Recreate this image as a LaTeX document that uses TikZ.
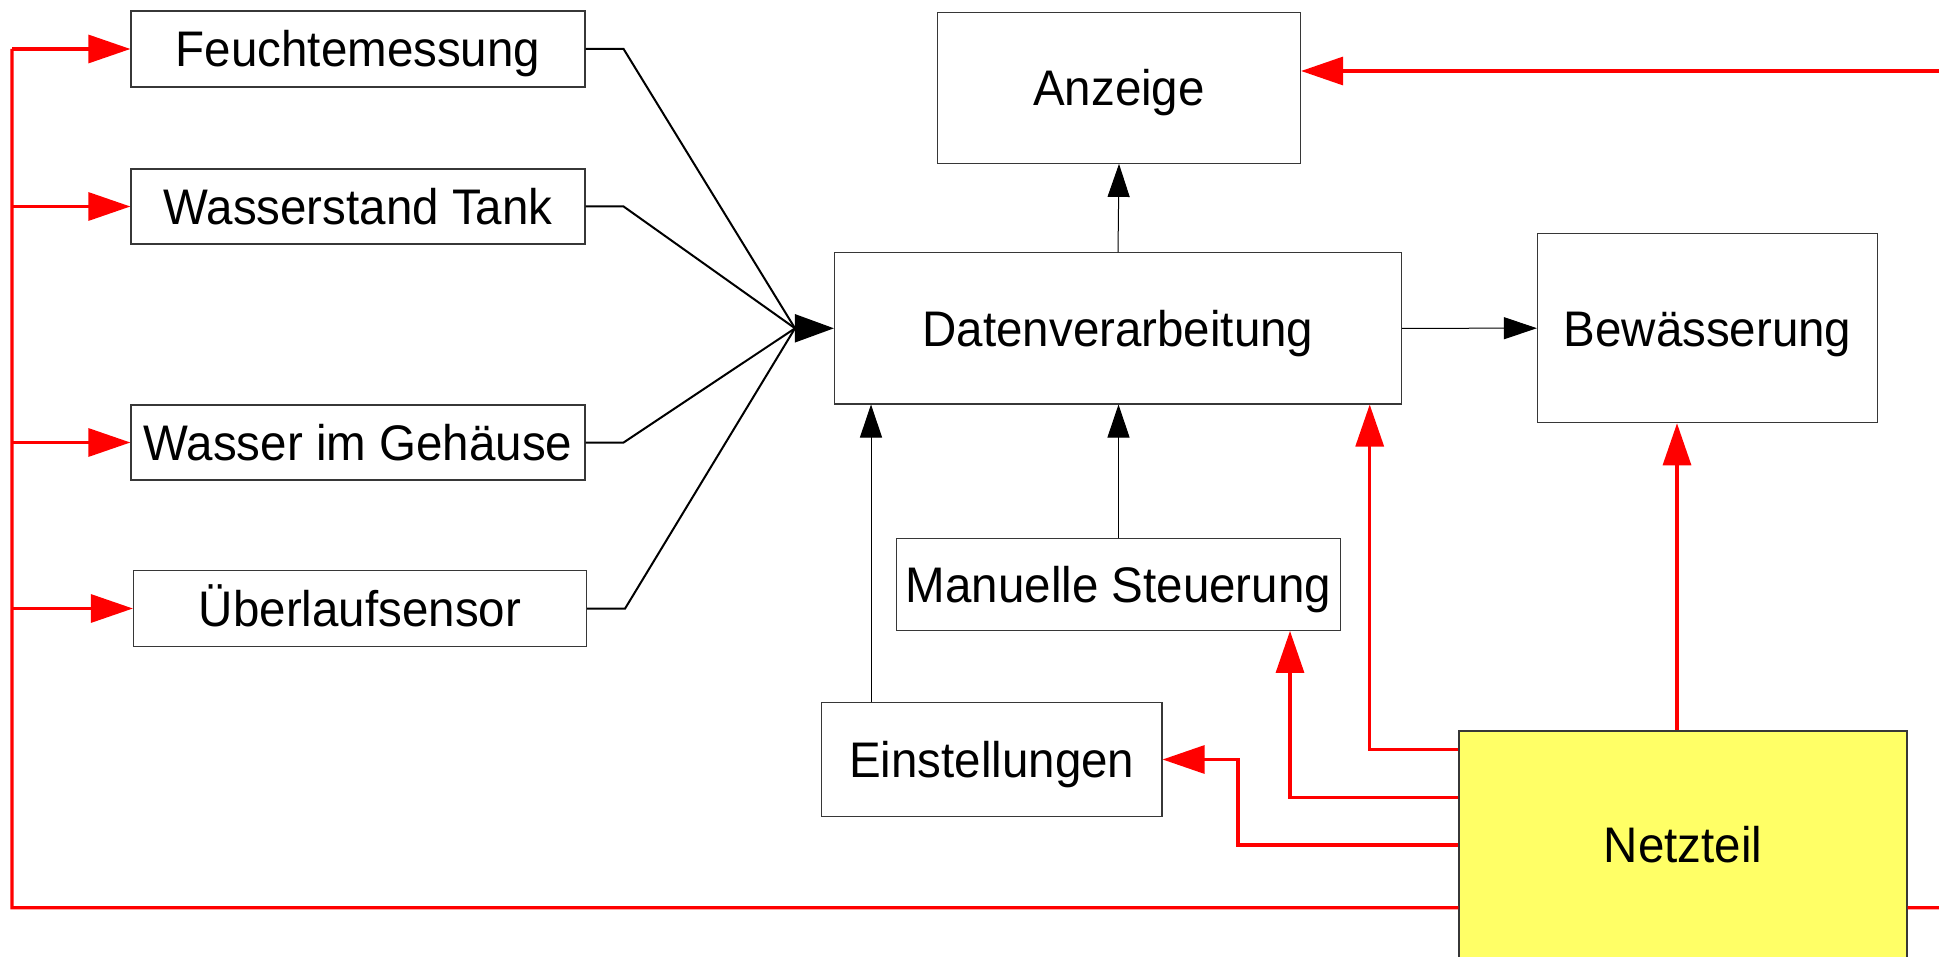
\documentclass[tikz,border=0pt]{standalone}
\usepackage{fontspec}
\setmainfont[FakeStretch=0.95]{Liberation Sans}
\usetikzlibrary{arrows.meta}
\definecolor{psuyellow}{RGB}{255,255,102}
\definecolor{boxline}{RGB}{55,55,55}

\begin{document}
\begin{tikzpicture}[x=0.5pt,y=-0.5pt,
  blk/.style={draw=boxline, line width=0.6pt, inner sep=0pt,
    text height=17.9pt, text depth=0pt,
    font=\fontsize{25pt}{30pt}\selectfont},
  power/.style={draw=red, line width=1.6pt},
  powerarrow/.style={power, -{Triangle[length=21pt,width=14pt]}},
  sig/.style={draw=black, line width=1pt},
  bigarrow/.style={draw=black, line width=1pt, -{Triangle[length=19.5pt,width=14pt]}},
  thinarrow/.style={draw=black, line width=0.5pt, -{Triangle[length=16.5pt,width=11pt]}},
]
\useasboundingbox (0,0) rectangle (1939,957);
\fill[white] (0,0) rectangle (1939,957);

% sensor blocks
\node[blk, minimum width=227pt, minimum height=38pt]   (F) at (358,49)    {Feuchtemessung};
\node[blk, minimum width=227pt, minimum height=37.5pt] (W) at (358,206.5) {Wasserstand Tank};
\node[blk, minimum width=227pt, minimum height=37.5pt] (G) at (358,442.5) {Wasser im Gehäuse};
\node[blk, minimum width=226.5pt, minimum height=37.8pt] (U) at (360,608.5) {Überlaufsensor};

% processing and outputs
\node[blk, minimum width=181.5pt, minimum height=75.5pt] (A) at (1119,87.8)  {Anzeige};
\node[blk, minimum width=283.5pt, minimum height=75.6pt] (D) at (1118,328.3) {Datenverarbeitung};
\node[blk, minimum width=170pt,   minimum height=94.5pt] (B) at (1707.5,328.2) {Bewässerung};
\node[blk, minimum width=222pt,   minimum height=46pt]   (M) at (1118.5,584.3) {Manuelle Steuerung};
\node[blk, minimum width=170.3pt, minimum height=56.8pt] (E) at (991.7,759.5) {Einstellungen};

% power supply
\node[blk, fill=psuyellow, minimum width=224pt, minimum height=114pt] (N) at (1683,845) {Netzteil};

% helper points
\coordinate (conv)  at (795,328.3);
\coordinate (railB) at (12,907.7);
\coordinate (eBend) at (1238,759.5);
\coordinate (edgeA) at (1939,71);
\coordinate (edgeN) at (1939,907.7);

% sensor signals into processing
\draw[sig] (F.east) -- ([xshift=19pt]F.east) -- (conv);
\draw[sig] (W.east) -- ([xshift=19pt]W.east) -- (conv);
\draw[sig] (G.east) -- ([xshift=19pt]G.east) -- (conv);
\draw[sig] (U.east) -- ([xshift=19pt]U.east) -- (conv);
\draw[bigarrow] (conv) -- (D.west);

% processing links
\draw[thinarrow] (D.north) -- (A.south);
\draw[thinarrow] (D.east) -- (B.west);
\draw[thinarrow] (M.north) -- (M.north |- D.south);
\draw[thinarrow] ([xshift=-60.35pt]E.north) -- ([xshift=-60.35pt]E.north |- D.south);

% power distribution
\draw[powerarrow] ([yshift=47.85pt]N.west) -| ([xshift=125.85pt]D.south);
\draw[powerarrow] ([yshift=23.65pt]N.west) -| ([xshift=85.75pt]M.south);
\draw[powerarrow] (N.west) -| (eBend) -- (E.east);
\draw[powerarrow] ([xshift=-3pt]N.north) -- ([xshift=-3pt]N.north |- B.south);
\draw[power] ([yshift=-31.35pt]N.west) -- (railB) -- (railB |- F.west);
\draw[power] ([yshift=-31.35pt]N.east) -- (edgeN);
\draw[powerarrow] (F.west -| railB) -- (F.west);
\draw[powerarrow] (W.west -| railB) -- (W.west);
\draw[powerarrow] (G.west -| railB) -- (G.west);
\draw[powerarrow] (U.west -| railB) -- (U.west);
\draw[powerarrow] (edgeA) -- (edgeA -| A.east);
\end{tikzpicture}
\end{document}
